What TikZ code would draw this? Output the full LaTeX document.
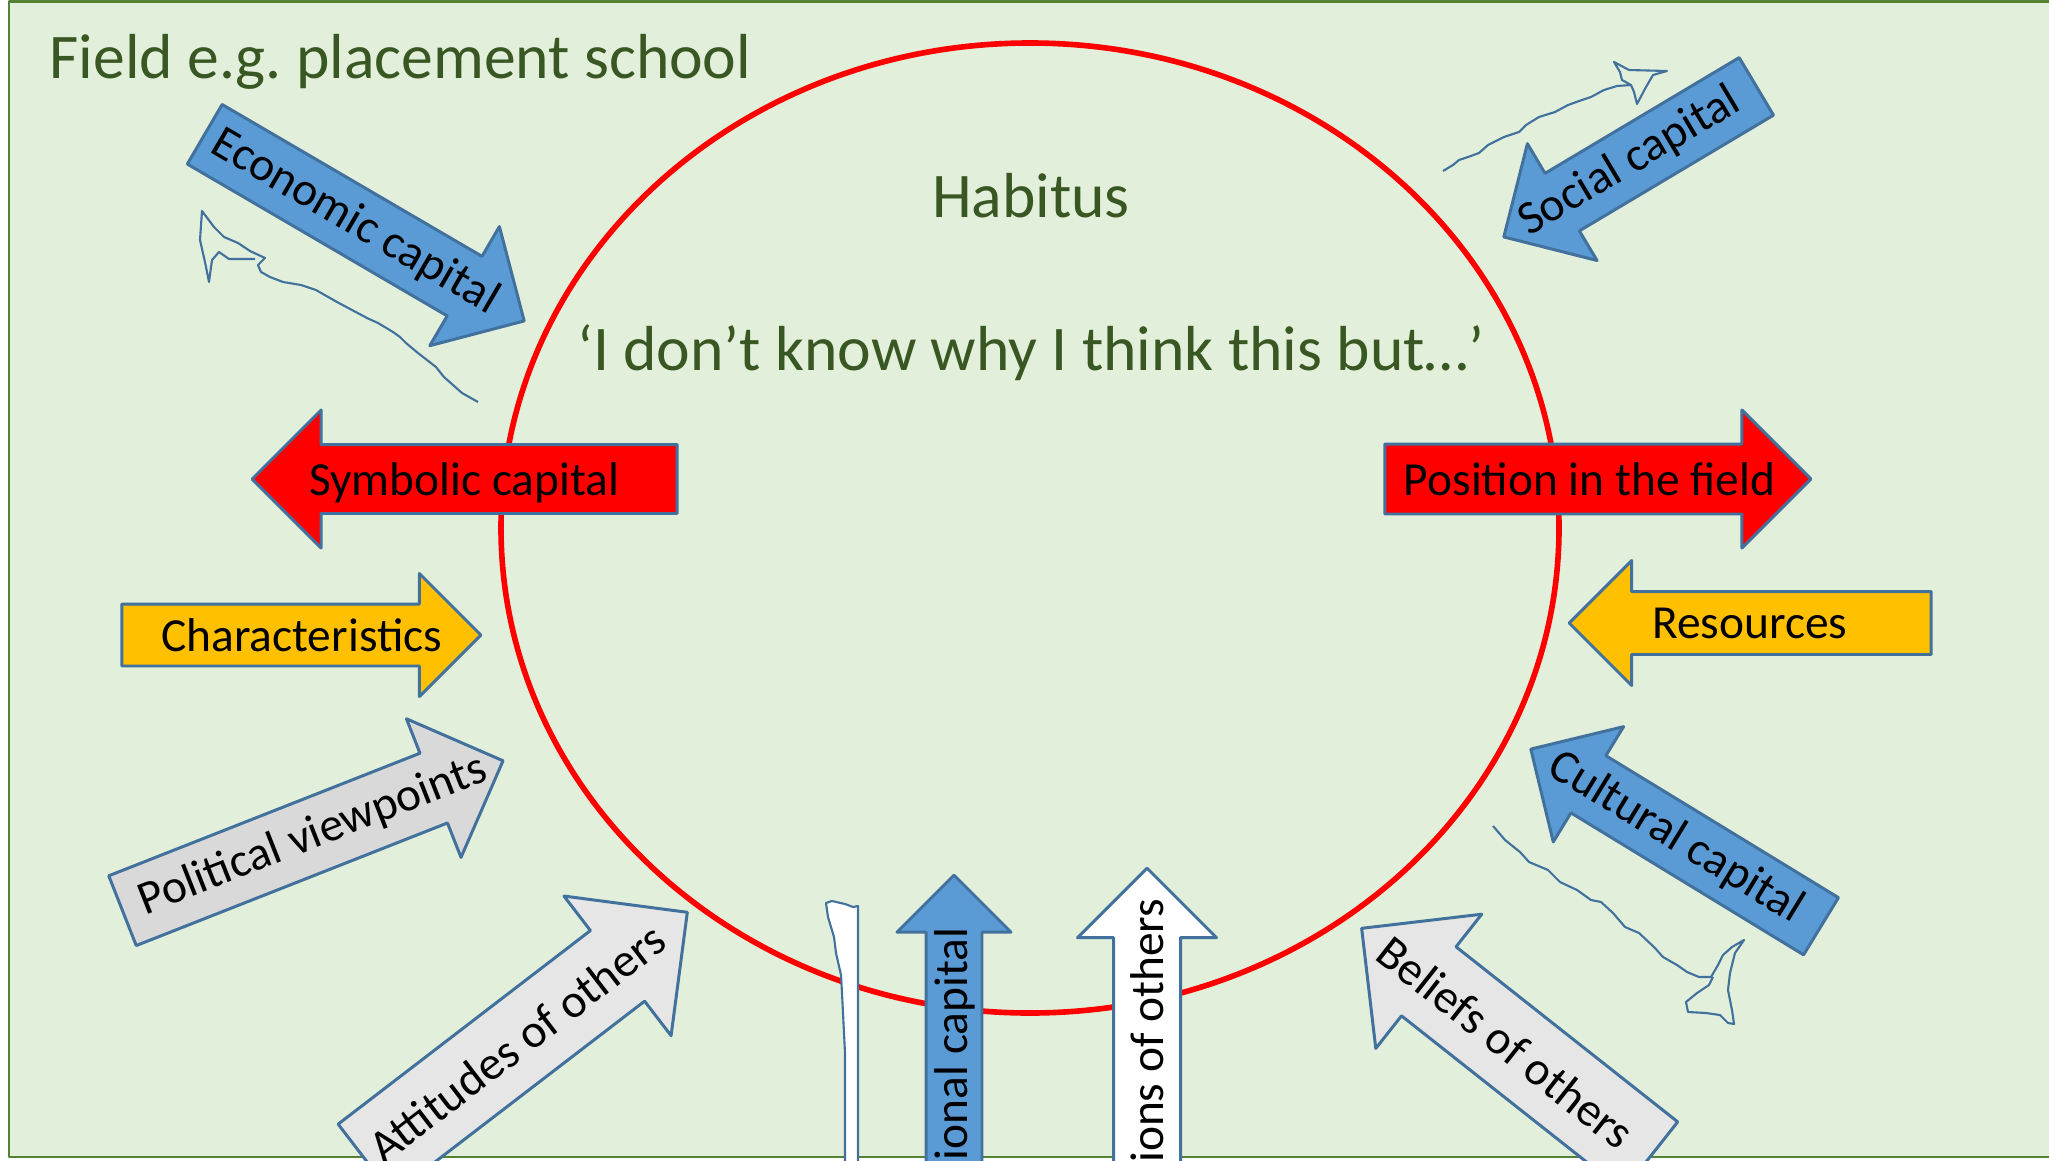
\documentclass[tikz,border=0pt]{standalone}
\usepackage{fontspec}
\setmainfont{Carlito}
\usetikzlibrary{shapes.arrows, calc}

\definecolor{fieldfill}{HTML}{E2EFDA}
\definecolor{fieldline}{HTML}{548235}
\definecolor{fieldtext}{HTML}{385723}
\definecolor{capline}{HTML}{41719C}
\definecolor{capblue}{HTML}{5B9BD5}
\definecolor{capgold}{HTML}{FFC000}
\definecolor{capgray}{HTML}{D9D9D9}
\definecolor{caplight}{HTML}{E7E6E6}

\frenchspacing

\begin{document}
\begin{tikzpicture}[
		line join=round,
		field/.style={draw=fieldline, line width=0.7pt, fill=fieldfill},
		heading/.style={font=\fontsize{18.1}{22}\selectfont, text=fieldtext, inner sep=0pt},
		capital/.style={single arrow, draw=capline, line width=0.85pt, inner xsep=0pt, anchor=tip},
		arrowtext/.style={font=\fontsize{13.5}{16}\selectfont, inner sep=0pt},
		doodle/.style={draw=capline, line width=0.6pt}
		]
		
		\useasboundingbox (0,0) rectangle (20.49,-11.60);
		\clip (0,0) rectangle (20.49,-11.60);
		
		% --- Field and habitus ---
		\path[field] (0.09,-0.015) rectangle (20.8,-11.57);
		\node[heading, anchor=base west] (field) at (0.49,-0.78) {Field e.g. placement school};
		\draw[red, line width=1.6pt] (10.30,-5.28) ellipse [x radius=5.29, y radius=4.85];
		\node[heading, anchor=base] (habitus) at (10.31,-2.17) {Habitus};
		\node[heading, anchor=base] (quote) at (10.31,-3.70) {‘I don’t know why I think this but…’};
		
		% --- Hand drawn marks ---
		\draw[doodle] (4.78,-4.02) -- (4.62,-3.93) -- (4.44,-3.77) -- (4.36,-3.67) -- (4.18,-3.53) -- (4.06,-3.43) -- (4.00,-3.37) -- (3.93,-3.32) -- (3.78,-3.23) -- (3.67,-3.18) -- (3.52,-3.10) -- (3.37,-3.02) -- (3.16,-2.90) -- (3.01,-2.85) -- (2.83,-2.82) -- (2.70,-2.77) -- (2.61,-2.72) -- (2.58,-2.65)
			-- (2.65,-2.58) -- (2.50,-2.51) -- (2.38,-2.43) -- (2.24,-2.37) -- (2.14,-2.27) -- (2.02,-2.11) -- (2.00,-2.40) -- (2.05,-2.62) -- (2.09,-2.82) -- (2.12,-2.60) -- (2.19,-2.52) -- (2.29,-2.59) -- (2.55,-2.59);
		\draw[doodle] (14.43,-1.71) -- (14.53,-1.65) -- (14.59,-1.60) -- (14.68,-1.57) -- (14.79,-1.53) -- (14.88,-1.45) -- (15.04,-1.37) -- (15.19,-1.32) -- (15.26,-1.25) -- (15.39,-1.17) -- (15.55,-1.12) -- (15.68,-1.05) -- (15.82,-1.00) -- (15.91,-0.97) -- (16.04,-0.90) -- (16.17,-0.86) -- (16.31,-0.85)
			-- (16.34,-0.92) -- (16.37,-1.04) -- (16.46,-0.87) -- (16.53,-0.75) -- (16.67,-0.71) -- (16.29,-0.70) -- (16.14,-0.62) -- (16.20,-0.72) -- (16.22,-0.80) -- (16.31,-0.85);
		\draw[doodle] (14.93,-8.26) -- (15.05,-8.40) -- (15.20,-8.52) -- (15.29,-8.62) -- (15.48,-8.70) -- (15.60,-8.82) -- (15.77,-8.90) -- (15.91,-9.00) -- (16.01,-9.02) -- (16.13,-9.13) -- (16.25,-9.27) -- (16.39,-9.33) -- (16.54,-9.47) -- (16.63,-9.57) -- (16.77,-9.65) -- (16.87,-9.72) -- (16.99,-9.77) -- (17.11,-9.77)
			-- (17.18,-9.65) -- (17.23,-9.55) -- (17.32,-9.47) -- (17.44,-9.40) -- (17.35,-9.53) -- (17.30,-9.73) -- (17.28,-9.90) -- (17.32,-10.10) -- (17.34,-10.24) -- (17.28,-10.23) -- (17.20,-10.15) -- (17.06,-10.13) -- (16.88,-10.12) -- (16.86,-10.02) -- (16.97,-9.93) -- (17.09,-9.85) -- (17.13,-9.77);
		\draw[doodle, fill=white] (8.26,-9.03) -- (8.32,-9.01) -- (8.45,-9.04) -- (8.53,-9.07) -- (8.58,-9.06) -- (8.58,-11.70) -- (8.45,-11.70) -- (8.45,-10.53) -- (8.42,-9.93) -- (8.41,-9.75) -- (8.36,-9.53) -- (8.34,-9.37) -- (8.28,-9.17) -- cycle;
		
		% --- Capitals ---
		\node[capital, fill=capblue, rotate=-30.3, minimum height=3.70cm, inner ysep=0.33cm, single arrow head extend=0.345cm] (econ) at (5.26,-3.22) {};
		\node[arrowtext, rotate=-30.3] (econ text) at ($(econ.tip)!.53!(econ.tail)$) {Economic capital};
		
		\node[capital, fill=red, rotate=180, minimum height=4.25cm, inner ysep=0.33cm, single arrow head extend=0.345cm] (symbolic) at (2.50,-4.79) {};
		\node[arrowtext] (symbolic text) at ([yshift=-0.04cm]$(symbolic.tip)!.5!(symbolic.tail)$) {Symbolic capital};
		
		\node[capital, fill=red, minimum height=4.26cm, inner ysep=0.335cm, single arrow head extend=0.34cm] (position) at (18.13,-4.79) {};
		\node[arrowtext] (position text) at ($(position.tip)!.52!(position.tail)$) {Position in the field};
		
		\node[capital, fill=capgold, minimum height=3.59cm, inner ysep=0.295cm, single arrow head extend=0.305cm] (traits) at (4.83,-6.35) {};
		\node[arrowtext] (traits text) at ($(traits.tip)!.5!(traits.tail)$) {Characteristics};
		
		\node[capital, fill=capgold, rotate=180, minimum height=3.62cm, inner ysep=0.30cm, single arrow head extend=0.31cm] (resources) at (15.67,-6.23) {};
		\node[arrowtext] (resources text) at ($(resources.tip)!.5!(resources.tail)$) {Resources};
		
		\node[capital, fill=capblue, rotate=210.8, minimum height=2.94cm, inner ysep=0.32cm, single arrow head extend=0.345cm] (social) at (15.02,-2.38) {};
		\node[arrowtext, rotate=30.8] (social text) at ($(social.tip)!.5!(social.tail)$) {Social capital};
		
		\node[capital, fill=capblue, rotate=148.6, minimum height=3.40cm, inner ysep=0.32cm, single arrow head extend=0.34cm] (cultural) at (15.29,-7.48) {};
		\node[arrowtext, rotate=-31.4] (cultural text) at ($(cultural.tip)!.5!(cultural.tail)$) {Cultural capital};
		
		\node[capital, fill=caplight, rotate=141.7, minimum height=3.68cm, inner ysep=0.425cm, single arrow head extend=0.415cm] (beliefs) at (13.60,-9.27) {};
		\node[arrowtext, rotate=-38.3] (beliefs text) at ($(beliefs.tip)!.5!(beliefs.tail)$) {Beliefs of others};
		
		\node[capital, fill=caplight, rotate=37.5, minimum height=4.06cm, inner ysep=0.43cm, single arrow head extend=0.435cm] (attitudes) at (6.89,-9.11) {};
		\node[arrowtext, rotate=37.5] (attitudes text) at ($(attitudes.tip)!.53!(attitudes.tail)$) {Attitudes of others};
		
		\node[capital, fill=capgray, rotate=21.5, minimum height=4.09cm, inner ysep=0.36cm, single arrow head extend=0.37cm] (political) at (5.05,-7.60) {};
		\node[arrowtext, rotate=21.5] (political text) at ($(political.tip)!.5!(political.tail)$) {Political viewpoints};
		
		\node[capital, fill=capblue, rotate=90, minimum height=3.5cm, inner ysep=0.265cm, single arrow head extend=0.29cm] (educ) at (9.54,-8.73) {};
		\node[arrowtext, rotate=90, anchor=east] (educ text) at (9.545,-9.27) {ional capital};
		
		\node[capital, fill=white, rotate=90, minimum height=3.5cm, inner ysep=0.32cm, single arrow head extend=0.36cm] (others) at (11.47,-8.66) {};
		\node[arrowtext, rotate=90, anchor=east] (others text) at (11.47,-8.98) {ions of others};
		
	\end{tikzpicture}
\end{document}
